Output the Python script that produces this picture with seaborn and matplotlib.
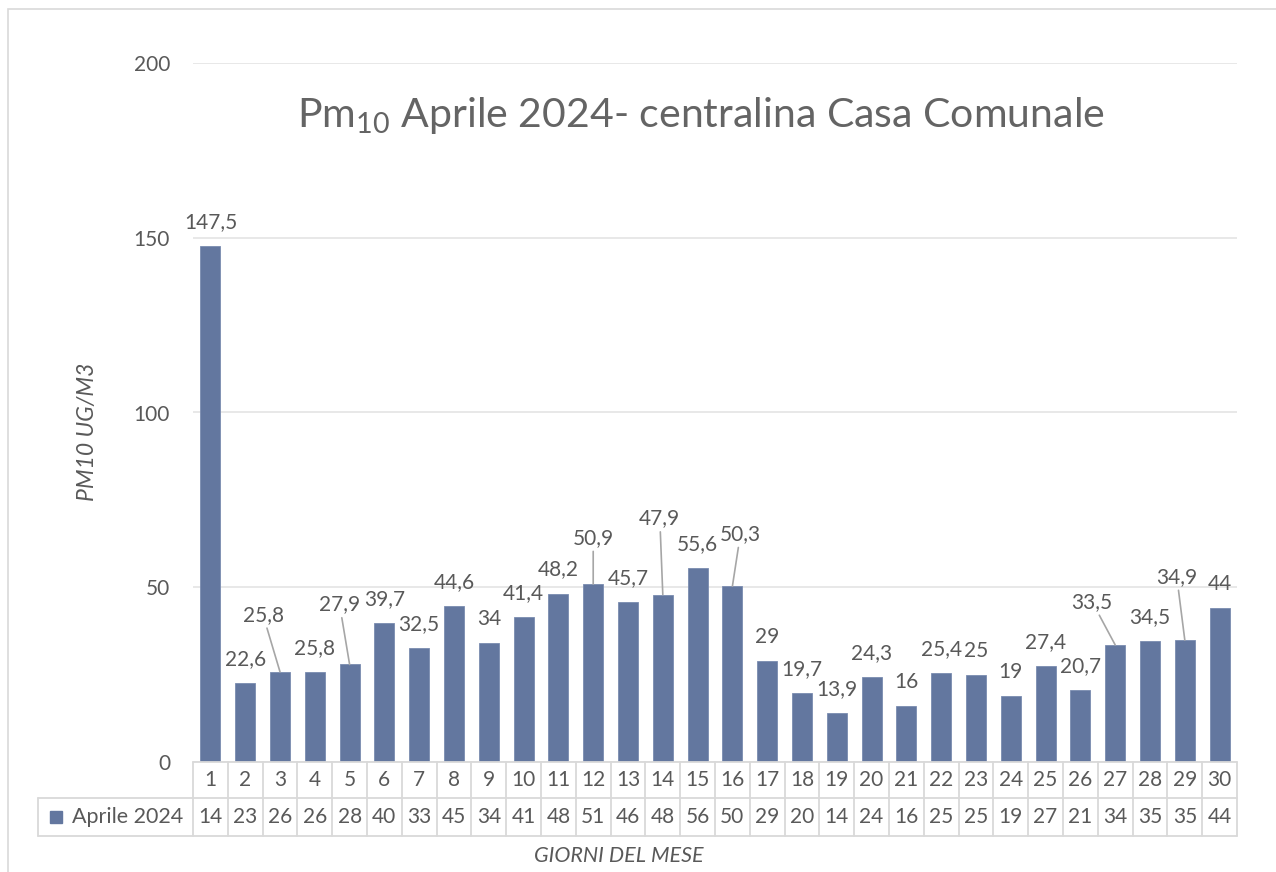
"""PM10 Aprile 2024 - centralina Casa Comunale: barre giornaliere + tabella dati."""
import matplotlib
matplotlib.use("Agg")
import matplotlib.pyplot as plt
import matplotlib.transforms as mtransforms
from matplotlib.patches import Rectangle
from matplotlib.lines import Line2D
import pandas as pd
import seaborn as sns

# dati
days = list(range(1, 31))
pm10 = [147.5, 22.6, 25.8, 25.8, 27.9, 39.7, 32.5, 44.6, 34, 41.4,
        48.2, 50.9, 45.7, 47.9, 55.6, 50.3, 29, 19.7, 13.9, 24.3,
        16, 25.4, 25, 19, 27.4, 20.7, 33.5, 34.5, 34.9, 44]
table_vals = [14, 23, 26, 26, 28, 40, 33, 45, 34, 41, 48, 51, 46, 48, 56,
              50, 29, 20, 14, 24, 16, 25, 25, 19, 27, 21, 34, 35, 35, 44]
series_name = "Aprile 2024"
yticks = [0, 50, 100, 150, 200]

# etichette spostate con linea guida (offset in pixel dal top della barra)
label_offsets = {3: (-17, 57), 5: (-10, 60), 12: (0, 46), 14: (-3, 76),
                 16: (8, 52), 27: (-23, 43), 29: (-8, 63)}

BAR = "#63779f"
TXT = "#595959"
GRID = "#e4e4e4"
BORDER = "#d9d9d9"

sns.set_theme(style="white")
plt.rcParams["font.family"] = ["Lato", "DejaVu Sans"]

W, H = 1276, 872
fig = plt.figure(figsize=(W / 100, H / 100), dpi=100)
# area del grafico in pixel: x 193..1237, y 63..762
ax = fig.add_axes([193 / W, 1 - 762 / H, (1237 - 193) / W, (762 - 63) / H])

df = pd.DataFrame({"giorno": [str(d) for d in days], "pm10": pm10})
sns.barplot(data=df, x="giorno", y="pm10", color=BAR, width=0.57,
            saturation=1, edgecolor="#7a8cb0", linewidth=0.6, ax=ax)

ax.set_xlim(-0.5, len(days) - 0.5)
ax.set_ylim(0, 200)
ax.set_yticks(yticks)
ax.set_yticklabels([str(t) for t in yticks], fontsize=15, color=TXT)
ax.tick_params(axis="y", length=0, pad=16.5)
ax.set_xticks([])
ax.set_xlabel("")
ax.set_ylabel("PM10 UG/M3", fontsize=16.5, color=TXT, style="italic")
ax.yaxis.set_label_coords((97.5 - 193) / (1237 - 193), (762 - 432) / (762 - 63))
ax.yaxis.grid(True, color=GRID, lw=1.2)
ax.set_axisbelow(True)
for s in ax.spines.values():
    s.set_visible(False)

# etichette dati
for i, (d, v) in enumerate(zip(days, pm10)):
    txt = f"{v:g}".replace(".", ",")
    if d in label_offsets:
        dx, dy = label_offsets[d]
        ax.annotate(txt, xy=(i, v), xytext=(dx, dy), textcoords="offset pixels",
                    ha="center", va="center", fontsize=15, color=TXT,
                    arrowprops=dict(arrowstyle="-", color="#a6a6a6", lw=1.2,
                                    shrinkA=0, shrinkB=0))
    else:
        ax.annotate(txt, xy=(i, v), xytext=(0, 24), textcoords="offset pixels",
                    ha="center", va="center", fontsize=15, color=TXT)

# tabella dati sotto l'asse
tr = mtransforms.blended_transform_factory(ax.transData, ax.transAxes)
ah = 762 - 63
r1 = -36 / ah
r2 = -74 / ah
left_x = (38 - 193) / (1237 - 193)


def line(xs, ys, transform):
    ax.add_line(Line2D(xs, ys, transform=transform, color=BORDER, lw=1.3,
                       clip_on=False))


line([-0.5, len(days) - 0.5], [0, 0], tr)
line([left_x, 1], [r1, r1], ax.transAxes)
line([left_x, 1], [r2, r2], ax.transAxes)
line([left_x, left_x], [r1, r2], ax.transAxes)
for k in range(len(days) + 1):
    line([k - 0.5, k - 0.5], [0, r2], tr)

for i, (d, tv) in enumerate(zip(days, table_vals)):
    ax.text(i, r1 / 2, str(d), transform=tr, ha="center", va="center",
            fontsize=15, color=TXT, clip_on=False)
    ax.text(i, (r1 + r2) / 2, str(tv), transform=tr, ha="center", va="center",
            fontsize=15, color=TXT, clip_on=False)

fig.add_artist(Rectangle((50 / W, 1 - 823 / H), 12 / W, 12 / H,
                         transform=fig.transFigure, color=BAR))
fig.text(72 / W, 1 - 817 / H, series_name, ha="left", va="center",
         fontsize=15.5, color=TXT)

fig.text(619 / W, 1 - 856 / H, "GIORNI DEL MESE", ha="center", va="center",
         fontsize=15.5, color=TXT, style="italic")

# titolo
fig.text(701 / W, 1 - 115 / H,
         r"Pm$_{\mathregular{10}}$ Aprile 2024- centralina Casa Comunale",
         ha="center", va="center", fontsize=29.5, color="#646464")

# cornice esterna
fig.add_artist(Rectangle((8 / W, -0.01), 1.0, 1 - 9 / H + 0.01,
                         transform=fig.transFigure, fill=False,
                         edgecolor=BORDER, lw=1.2))

fig.savefig("out.png", dpi=100)
plt.close(fig)
